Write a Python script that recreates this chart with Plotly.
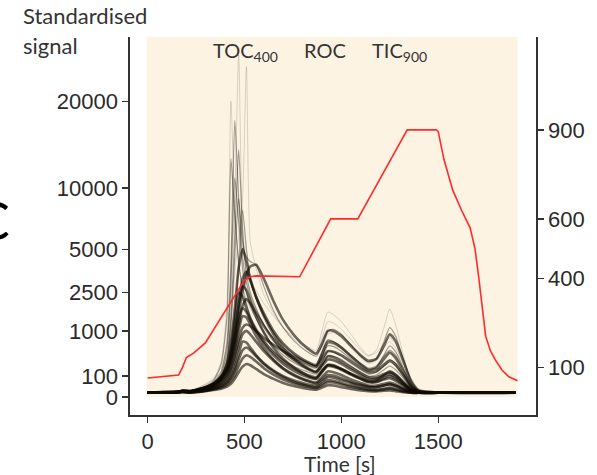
import numpy as np
import plotly.graph_objects as go

# ---------------- data ----------------
time_s = [0, 150, 180, 220, 260, 300, 340, 380, 410, 430, 450, 470, 490, 510, 530, 560, 600, 650, 700,
          760, 820, 870, 900, 930, 960, 1000, 1050, 1100, 1140, 1180, 1220, 1250, 1280, 1320, 1360, 1400, 1500, 1900]

# faint, very tall spikes
spike_1 = [5, 6, 10, 10, 20, 40, 80, 200, 600, 2500, 9000, 26800, 6000, 3500, 3000, 2600, 2000, 1500, 1100,
           800, 600, 500, 1000, 1650, 1550, 1300, 900, 550, 400, 450, 650, 800, 650, 300, 80, 15, 6, 5]
spike_2 = [5, 7, 12, 10, 18, 35, 70, 150, 400, 1200, 3500, 6000, 9000, 25000, 5500, 3800, 2400, 1600, 1100,
           750, 550, 450, 800, 1300, 1250, 1050, 750, 500, 380, 500, 1100, 1770, 1200, 400, 60, 12, 5, 4]
spike_3 = [4, 6, 9, 9, 15, 30, 70, 300, 2000, 20000, 8000, 4000, 2800, 2200, 1800, 1400, 1000, 700, 500,
           380, 300, 260, 500, 900, 950, 800, 550, 350, 260, 300, 550, 700, 550, 250, 50, 10, 5, 4]

# medium peaks
mid_1 = [5, 6, 8, 8, 14, 25, 50, 150, 700, 4000, 17500, 9000, 4500, 3000, 2300, 1700, 1200, 800, 550,
         380, 280, 230, 450, 750, 700, 580, 400, 260, 190, 220, 380, 500, 400, 180, 40, 8, 5, 4]
mid_2 = [4, 5, 8, 8, 12, 20, 40, 100, 350, 1500, 6000, 14000, 6500, 3500, 2500, 1800, 1200, 750, 480,
         320, 230, 190, 350, 600, 580, 480, 330, 210, 150, 170, 260, 320, 260, 120, 30, 7, 5, 4]
mid_3 = [5, 6, 9, 8, 12, 22, 45, 120, 500, 3000, 11000, 7000, 3800, 2500, 1900, 1400, 950, 600, 400,
         260, 180, 150, 280, 480, 460, 380, 260, 170, 120, 140, 220, 280, 220, 100, 25, 6, 5, 4]
mid_4 = [4, 5, 7, 7, 11, 18, 35, 90, 300, 1200, 4500, 9000, 5500, 4500, 4200, 4000, 2800, 1700, 1100,
         700, 480, 380, 600, 1000, 1050, 900, 620, 380, 280, 330, 700, 1100, 850, 330, 60, 10, 5, 4]
mid_5 = [5, 6, 8, 8, 14, 26, 60, 250, 1500, 13000, 7500, 4200, 2700, 2000, 1500, 1100, 750, 480, 320,
         210, 150, 120, 220, 380, 380, 320, 220, 140, 100, 110, 170, 220, 170, 80, 20, 6, 5, 4]
mid_6 = [4, 5, 7, 7, 10, 16, 30, 70, 180, 500, 1500, 4000, 8000, 5000, 3200, 2200, 1500, 950, 620,
         400, 280, 220, 380, 650, 640, 540, 370, 240, 170, 200, 400, 600, 470, 200, 40, 8, 5, 4]

# dense core
core_1 = [5, 6, 9, 8, 14, 22, 40, 90, 200, 450, 1000, 2000, 3200, 3600, 3100, 2300, 1500, 900, 550,
          330, 200, 150, 250, 380, 360, 290, 200, 130, 90, 90, 120, 140, 110, 50, 15, 6, 5, 4]
core_2 = [4, 5, 8, 7, 12, 20, 35, 80, 180, 400, 900, 1900, 2800, 2600, 2100, 1500, 950, 550, 330,
          190, 110, 80, 150, 240, 230, 180, 120, 75, 50, 50, 70, 80, 60, 30, 10, 5, 4, 4]
core_3 = [5, 6, 8, 7, 11, 18, 30, 60, 130, 280, 600, 1200, 1900, 2200, 2000, 1600, 1150, 750, 480,
          300, 190, 140, 220, 320, 310, 250, 170, 110, 75, 75, 100, 120, 90, 40, 12, 5, 4, 4]
core_4 = [4, 5, 7, 6, 9, 14, 24, 50, 110, 230, 500, 1000, 1500, 1450, 1200, 850, 550, 320, 190,
          110, 65, 48, 90, 150, 140, 110, 70, 45, 30, 30, 40, 48, 36, 18, 7, 4, 4, 4]
core_5 = [4, 5, 7, 6, 8, 12, 20, 35, 70, 140, 300, 600, 900, 1000, 900, 700, 480, 300, 180,
          100, 60, 42, 70, 110, 105, 80, 52, 34, 24, 22, 30, 36, 28, 14, 6, 4, 4, 4]
core_6 = [4, 5, 6, 5, 7, 10, 15, 25, 45, 80, 160, 320, 500, 560, 500, 380, 250, 150, 90,
          50, 30, 22, 40, 65, 60, 45, 30, 20, 14, 12, 16, 20, 15, 8, 5, 4, 4, 4]
core_7 = [4, 5, 6, 5, 6, 8, 11, 16, 25, 40, 75, 140, 210, 250, 230, 180, 120, 75, 45,
          26, 16, 12, 20, 32, 30, 22, 15, 10, 8, 7, 9, 10, 8, 5, 4, 4, 4, 4]
core_8 = [5, 6, 9, 8, 13, 22, 40, 80, 170, 350, 800, 1600, 2600, 3400, 3900, 4000, 3200, 2100, 1350,
          850, 560, 430, 650, 1000, 1000, 850, 600, 400, 300, 330, 600, 900, 720, 300, 60, 10, 5, 4]
core_9 = [5, 6, 8, 7, 11, 17, 30, 65, 150, 320, 700, 1400, 1800, 1650, 1350, 1000, 700, 450, 290,
          180, 115, 90, 160, 230, 220, 180, 125, 85, 60, 65, 110, 150, 115, 50, 12, 5, 4, 4]
core_10 = [4, 5, 7, 6, 9, 14, 22, 45, 90, 180, 380, 750, 1100, 1200, 1150, 1000, 800, 620, 480,
           350, 260, 210, 330, 480, 470, 400, 290, 190, 140, 150, 230, 300, 240, 110, 25, 6, 4, 4]
core_11 = [5, 6, 8, 7, 12, 20, 38, 90, 220, 550, 1400, 2500, 2300, 1800, 1400, 1000, 650, 400, 250,
           150, 95, 75, 140, 220, 210, 170, 115, 75, 55, 55, 80, 100, 75, 35, 10, 5, 4, 4]
core_12 = [4, 5, 6, 5, 7, 10, 16, 30, 55, 100, 200, 420, 700, 680, 560, 400, 260, 160, 100,
           60, 38, 30, 55, 90, 85, 65, 45, 30, 22, 22, 30, 38, 28, 14, 6, 4, 4, 4]
core_13 = [5, 6, 9, 8, 13, 22, 42, 100, 260, 700, 1800, 3800, 5000, 4200, 3200, 2300, 1600, 1000, 650,
           420, 290, 230, 420, 700, 680, 560, 380, 240, 170, 190, 330, 450, 350, 150, 30, 7, 5, 4]
core_14 = [4, 5, 6, 5, 6, 9, 13, 20, 35, 60, 110, 220, 340, 400, 370, 290, 190, 115, 70,
           40, 25, 18, 30, 50, 48, 36, 24, 16, 11, 10, 13, 16, 12, 7, 4, 4, 4, 4]

spike_curves = [spike_1, spike_2, spike_3]
mid_curves = [mid_1, mid_2, mid_3, mid_4, mid_5, mid_6]
core_curves = [core_1, core_2, core_3, core_4, core_5, core_6, core_7,
               core_8, core_9, core_10, core_11, core_12, core_13, core_14]

temp_time = [0, 160, 180, 200, 237, 270, 298, 500, 530, 560, 785, 945, 1085, 1340, 1490, 1500, 1530,
             1575, 1620, 1665, 1690, 1710, 1730, 1745, 1770, 1795, 1830, 1865, 1910]
temp_c = [64, 74, 100, 133, 148, 165, 182, 394, 405, 408, 405, 600, 600, 900, 900, 895, 800,
          697, 630, 570, 500, 400, 290, 205, 155, 125, 90, 68, 55]

signal_ticks = [0, 100, 1000, 2500, 5000, 10000, 20000]
temp_ticks = [100, 400, 600, 900]
time_ticks = [0, 500, 1000, 1500]

# ---------------- layout geometry ----------------
W, H = 597, 475
L, R, T, B = 130, 545, 37, 415


def px(x):
    return (x - L) / (R - L)


def py(y):
    return (B - y) / (B - T)


fig = go.Figure()

ink = "14,10,2"


def add_curves(curves, alpha, width):
    for c in curves:
        fig.add_trace(go.Scatter(
            x=time_s, y=np.sqrt(np.array(c, dtype=float)), mode="lines",
            line=dict(color=f"rgba({ink},{alpha})", width=width, shape="spline", smoothing=0.6),
            hoverinfo="skip", showlegend=False))


add_curves(spike_curves, 0.15, 1.0)
add_curves(mid_curves, 0.38, 1.2)
add_curves(core_curves, 0.6, 2.6)

fig.add_trace(go.Scatter(
    x=temp_time, y=temp_c, mode="lines", yaxis="y2",
    line=dict(color="#ff2a2a", width=1.6), hoverinfo="skip", showlegend=False))

# beige panel
fig.add_shape(type="rect", xref="x", yref="y", x0=-5, x1=1910, y0=0, y1=172.2,
              fillcolor="#fdf3e3", line=dict(width=0), layer="below")

tickfont = dict(family="Liberation Sans, Arial, sans-serif", size=22, color="#2a2a2a")
axcol = "#333333"
common = dict(ticks="outside", ticklen=6, tickwidth=1.3, tickcolor=axcol,
              showline=True, linecolor=axcol, linewidth=1.6, showgrid=False, zeroline=False,
              tickfont=tickfont)

fig.update_layout(
    width=W, height=H,
    margin=dict(l=L, r=W - R, t=T, b=H - B, pad=0),
    paper_bgcolor="white", plot_bgcolor="white",
    xaxis=dict(range=[-91, 2005], tickvals=time_ticks, ticktext=[str(v) for v in time_ticks], **common),
    yaxis=dict(range=[-8.61, 172.2], tickvals=[float(np.sqrt(v)) for v in signal_ticks],
               ticktext=[str(v) for v in signal_ticks], **common),
    yaxis2=dict(range=[-60.7, 1213], overlaying="y", side="right", tickvals=temp_ticks,
                ticktext=[str(v) for v in temp_ticks], **common),
)

labfont = dict(family="Lato, Open Sans, sans-serif", size=22, color="#333333")
pkfont = dict(family="Lato, Open Sans, sans-serif", size=20, color="#333333")

ann = [
    dict(text="Standardised", x=px(19), y=py(16), xanchor="left", yanchor="middle", font=labfont),
    dict(text="signal", x=px(19), y=py(45), xanchor="left", yanchor="middle", font=labfont),
    dict(text="Time [s]", x=px(345), y=py(464), xanchor="center", yanchor="middle",
         font=dict(family="Lato, Open Sans, sans-serif", size=21, color="#333333")),
    dict(text="TOC<sub>400</sub>", x=px(213), y=py(52), xanchor="left", yanchor="middle", font=pkfont),
    dict(text="ROC", x=px(329), y=py(50), xanchor="center", yanchor="middle", font=pkfont),
    dict(text="TIC<sub>900</sub>", x=px(375), y=py(52), xanchor="left", yanchor="middle", font=pkfont),
    dict(text="C", x=px(9), y=py(220), xanchor="right", yanchor="middle",
         font=dict(family="Lato, Open Sans, sans-serif", size=52, color="black")),
]
for a in ann:
    a.update(xref="paper", yref="paper", showarrow=False)
fig.update_layout(annotations=ann)

fig.write_html("out.html", config={"displayModeBar": False, "staticPlot": True},
               post_script="document.body.style.margin='0';document.body.style.overflow='hidden';")
